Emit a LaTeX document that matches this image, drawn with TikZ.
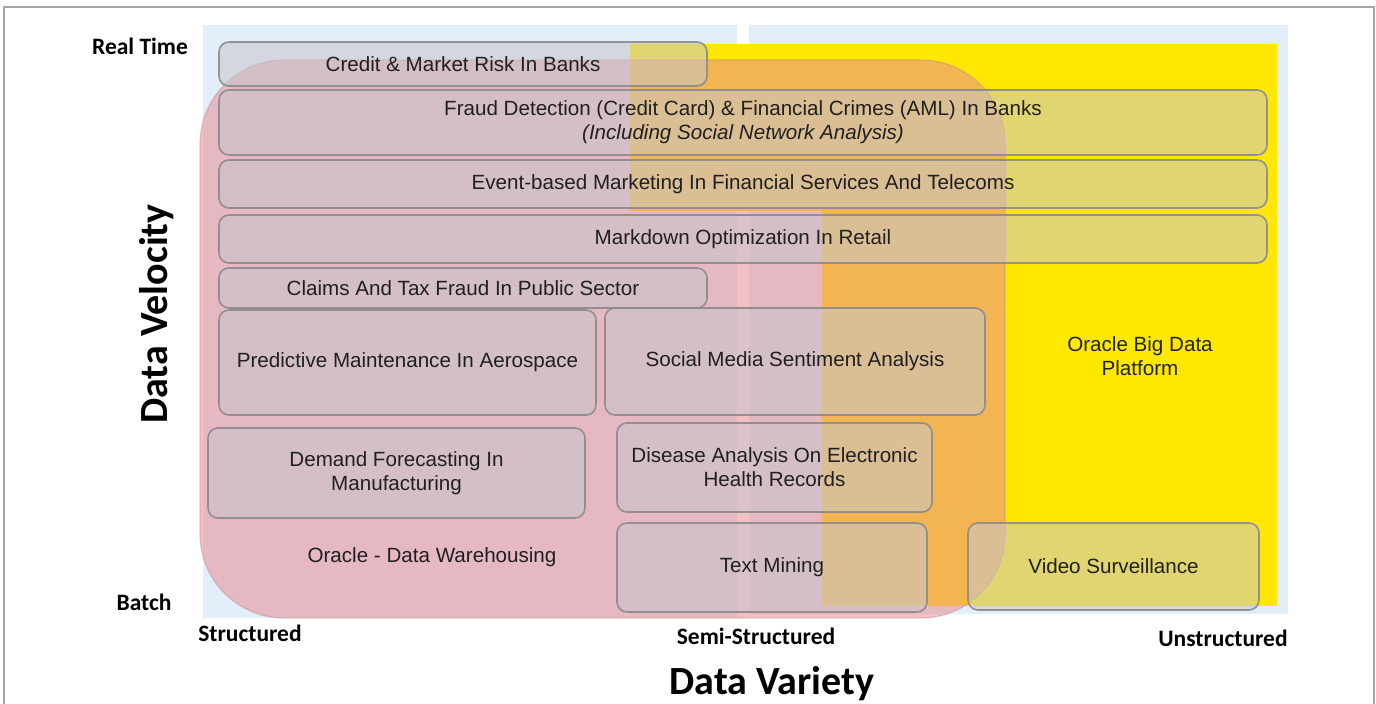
\documentclass[tikz,border=0pt]{standalone}
\usepackage{fontspec}
\setmainfont{Liberation Sans}
\newfontfamily\labelfont{Carlito}

\definecolor{bgblue}{RGB}{226,238,249}
\definecolor{bdyellow}{RGB}{255,232,0}
\definecolor{dwpink}{RGB}{232,140,150}
\definecolor{dwedge}{RGB}{190,130,140}
\definecolor{boxgray}{RGB}{200,198,204}
\definecolor{boxedge}{RGB}{140,138,140}
\definecolor{textgray}{RGB}{32,32,32}

\begin{document}
\begin{tikzpicture}[x = 0.5pt, y = -0.5pt,
        boxtext/.style = {text = textgray, align = center, font = \fontsize{10.3}{12}\selectfont},
        usecase/.style = {boxtext, draw = boxedge, line width = 0.8pt, fill = boxgray, fill opacity = 0.55, draw opacity = 0.9, text opacity = 1, rounded corners = 5pt, inner sep = 0pt},
        scalelabel/.style = {font = \labelfont\bfseries\fontsize{11.75}{14}\selectfont},
        axistitle/.style = {font = \labelfont\bfseries\fontsize{20}{24}\selectfont}
    ]
        \useasboundingbox (0,0) rectangle (1376,704);
        \draw[gray!70, line width = 0.6pt] (4,704) -- (4,7) -- (1374,7) -- (1374,704);

        \fill[bgblue] (203,25) rectangle (737,618);
        \fill[bgblue] (749,25) rectangle (1288,614);
        \fill[bdyellow] (630,44) -- (1277,44) -- (1277,606) -- (822,606) -- (822,211) -- (630,211) -- cycle;
        \draw[dwedge, line width = 0.6pt, draw opacity = 0.4, fill = dwpink, fill opacity = 0.55, rounded corners = 42pt] (200,60) rectangle (1005,618);

        \node[usecase, minimum width = 244pt, minimum height = 22pt] (credit) at (463,64) {Credit \& Market Risk In Banks};
        \node[usecase, minimum width = 524pt, minimum height = 32.5pt] (fraud) at (743,122.5) {Fraud Detection (Credit Card) \& Financial Crimes (AML) In Banks\\ \textit{(Including Social Network Analysis)}};
        \node[usecase, minimum width = 524pt, minimum height = 24pt] (event) at (743,184) {Event-based Marketing In Financial Services And Telecoms};
        \node[usecase, minimum width = 524pt, minimum height = 24pt] (markdown) at (743,239) {Markdown Optimization In Retail};
        \node[usecase, minimum width = 244pt, minimum height = 20pt] (claims) at (463,288) {Claims And Tax Fraud In Public Sector};
        \node[usecase, minimum width = 188.5pt, minimum height = 52.5pt] (predictive) at (407.5,362.5) {Predictive Maintenance In Aerospace};
        \node[usecase, minimum width = 190pt, minimum height = 53.5pt] (social) at (795,361.5) {Social Media Sentiment Analysis};
        \node[usecase, minimum width = 188.5pt, minimum height = 45pt] (demand) at (396.5,473) {Demand Forecasting In\\ Manufacturing};
        \node[usecase, minimum width = 157.5pt, minimum height = 44.5pt] (disease) at (774.5,467.5) {Disease Analysis On Electronic\\ Health Records};
        \node[usecase, minimum width = 155pt, minimum height = 44.5pt] (textmining) at (772,567.5) {Text Mining};
        \node[usecase, minimum width = 145.5pt, minimum height = 43.5pt] (video) at (1113.5,566.5) {Video Surveillance};

        \node[boxtext] (bigdata) at (1140,356) {Oracle Big Data\\ Platform};
        \node[boxtext] (warehouse) at (432,557) {Oracle - Data Warehousing};

        \node[scalelabel] (realtime) at (140,46) {Real Time};
        \node[scalelabel] (batch) at (144,602) {Batch};
        \node[scalelabel] (structured) at (250,633) {Structured};
        \node[scalelabel] (semistructured) at (756,636) {Semi-Structured};
        \node[scalelabel] (unstructured) at (1223,638) {Unstructured};
        \node[axistitle, rotate = 90] (velocity) at (157,314) {Data Velocity};
        \node[axistitle] (variety) at (772,684) {Data Variety};
    \end{tikzpicture}
\end{document}
